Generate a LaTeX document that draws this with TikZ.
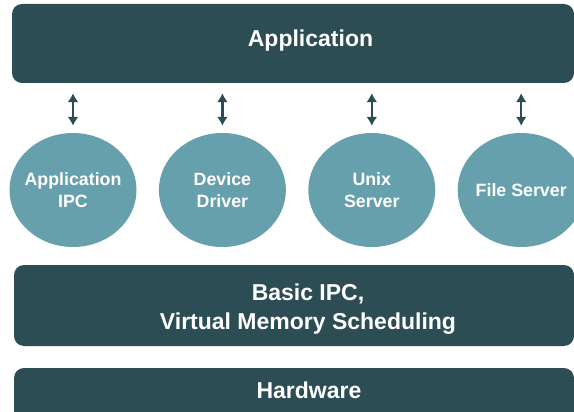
\documentclass[tikz,border=0pt]{standalone}
\usepackage{fontspec}
\setmainfont{Liberation Sans}
\usepackage{xcolor}
\usepackage{tikz}
\usetikzlibrary{positioning,arrows.meta,shapes.geometric}

\definecolor{layerdark}{HTML}{2C4D54}
\definecolor{serverfill}{HTML}{67A0AD}

\begin{document}
\begin{tikzpicture}[
        x=1pt, y=-1pt,
        node distance=22pt,
        layer/.style={fill=layerdark, rounded corners=10pt, minimum width=562pt, inner sep=0pt},
        layertext/.style={text=white, align=center,
                          font=\fontsize{23}{28.3}\selectfont\bfseries},
        server/.style={ellipse, fill=serverfill, minimum width=127pt, minimum height=114pt,
                       inner sep=-10pt, text=white, align=center,
                       font=\fontsize{17.8}{21.3}\selectfont\bfseries},
        iface/.style={<->, >={Latex[width=11pt,length=9pt]}, line width=2.2pt, draw=layerdark,
                      shorten <=10pt, shorten >=7pt},
    ]
        \useasboundingbox (0,0) rectangle (574,412);
        \clip (0,0) rectangle (574,412);

        % layers
        \node[layer, minimum height=79pt] (app) at (293,43.5) {};
        \node[layer, minimum height=81pt, minimum width=560pt] (kernel) at (294,305.5) {};
        \node[layer, minimum height=80pt, minimum width=560pt] (hw) at (294,408) {};

        \node[layertext] (apptext) at (310.5,40.7) {Application};
        \node[layertext] (kerneltext) at (308,309) {Basic IPC,\\Virtual Memory Scheduling};
        \node[layertext] (hwtext) at (309,390) {Hardware};

        % user-level servers
        \node[server] (appipc) at (73,190) {Application\\IPC};
        \node[server, right=of appipc] (driver) {Device\\Driver};
        \node[server, right=of driver] (unix) {Unix\\Server};
        \node[server, right=of unix] (files) {File Server};

        \draw[iface] (appipc.north |- app.south) -- (appipc.north);
        \draw[iface] (driver.north |- app.south) -- (driver.north);
        \draw[iface] (unix.north |- app.south) -- (unix.north);
        \draw[iface] (files.north |- app.south) -- (files.north);
\end{tikzpicture}
\end{document}
